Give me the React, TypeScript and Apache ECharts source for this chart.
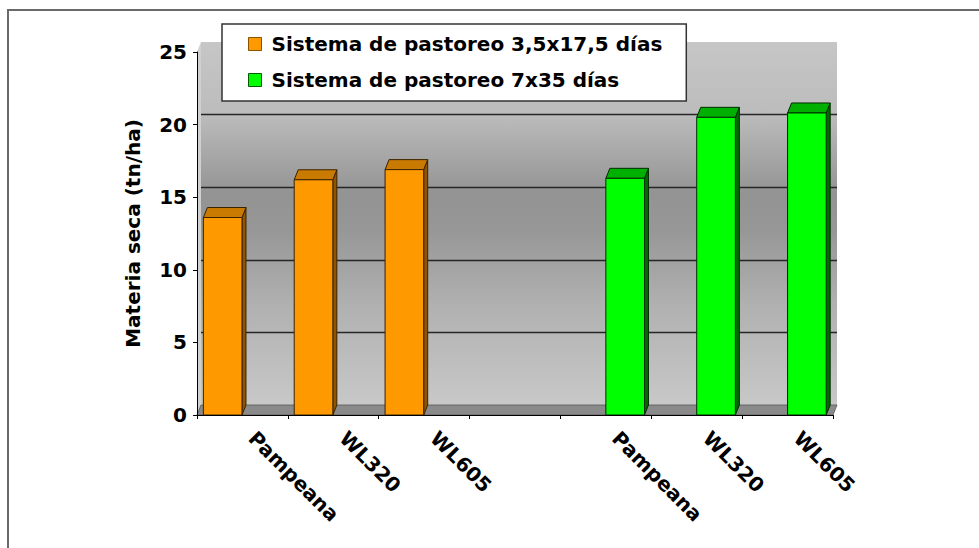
import React, { useEffect, useRef } from 'react';
import * as echarts from 'echarts';

const categories = ['Pampeana', 'WL320', 'WL605', '', 'Pampeana', 'WL320', 'WL605'];
const seriesNames = ['Sistema de pastoreo 3,5x17,5 días', 'Sistema de pastoreo 7x35 días'];
const valuesShort: (number | null)[] = [13.6, 16.2, 16.9, null, null, null, null];
const valuesLong: (number | null)[] = [null, null, null, null, 16.3, 20.5, 20.8];
const yMin = 0;
const yMax = 25;
const yInterval = 5;
const yAxisName = 'Materia seca (tn/ha)';

const FONT = '"DejaVu Sans", "Liberation Sans", sans-serif';
const DX = 4;
const DY = -10;
const GRID = { left: 197, top: 52, width: 636, height: 363 };

const toData = (vals: (number | null)[]) =>
  vals.map((v, i) => [i, v]).filter((d) => d[1] !== null);

const makeBar = (offset: number, front: string, topC: string, side: string, stroke: string) =>
  (params: any, api: any) => {
    const cat = api.value(0);
    const val = api.value(1);
    const p0 = api.coord([cat, 0]);
    const p1 = api.coord([cat, val]);
    const W = api.size([1, 0])[0];
    const x0 = p0[0] - W / 2 + W * offset;
    const w = W * 0.425;
    const yb = p0[1];
    const yt = p1[1];
    return {
      type: 'group',
      children: [
        {
          type: 'polygon',
          shape: { points: [[x0 + w, yt], [x0 + w + DX, yt + DY], [x0 + w + DX, yb + DY], [x0 + w, yb]] },
          style: { fill: side, stroke, lineWidth: 1 },
        },
        {
          type: 'polygon',
          shape: { points: [[x0, yt], [x0 + DX, yt + DY], [x0 + w + DX, yt + DY], [x0 + w, yt]] },
          style: { fill: topC, stroke, lineWidth: 1 },
        },
        {
          type: 'rect',
          shape: { x: x0, y: yt, width: w, height: yb - yt },
          style: { fill: front, stroke, lineWidth: 1 },
        },
      ],
    };
  };

export default function App() {
  const ref = useRef<HTMLDivElement>(null);
  useEffect(() => {
    if (!ref.current) return;
    const chart = echarts.init(ref.current, null, { renderer: 'svg' });
    const labelStyle = { fontFamily: FONT, fontWeight: 'bold' as const, fontSize: 20, color: '#000' };
    chart.setOption({
      animation: false,
      backgroundColor: '#ffffff',
      graphic: [
        {
          type: 'rect',
          silent: true,
          z: -10,
          shape: { x: 8, y: 10, width: 1000, height: 600 },
          style: { fill: 'none', stroke: '#6a6a6a', lineWidth: 2 },
        },
      ],
      legend: {
        show: true,
        orient: 'vertical',
        left: 222,
        top: 24,
        padding: [10, 24, 11, 26],
        itemGap: 16,
        itemWidth: 13,
        itemHeight: 13,
        backgroundColor: '#ffffff',
        borderColor: '#333333',
        borderWidth: 1.5,
        textStyle: { ...labelStyle, padding: [0, 0, 0, 5] },
        data: [
          { name: seriesNames[0], icon: 'rect', itemStyle: { color: '#FF9900', borderColor: '#8a5200', borderWidth: 1 } },
          { name: seriesNames[1], icon: 'rect', itemStyle: { color: '#00FF00', borderColor: '#005a00', borderWidth: 1 } },
        ],
        z: 20,
      },
      grid: [
        { ...GRID, outerBoundsMode: 'none', show: false },
        {
          left: GRID.left + DX,
          top: GRID.top + DY,
          width: GRID.width,
          height: GRID.height,
          outerBoundsMode: 'none',
          show: true,
          borderWidth: 0,
          backgroundColor: new echarts.graphic.LinearGradient(0, 0, 0, 1, [
            { offset: 0, color: '#c6c6c6' },
            { offset: 0.2, color: '#bcbcbc' },
            { offset: 0.42, color: '#939393' },
            { offset: 0.52, color: '#979797' },
            { offset: 0.72, color: '#b0b0b0' },
            { offset: 1, color: '#c8c8c8' },
          ]),
        },
      ],
      xAxis: [
        {
          type: 'category',
          gridIndex: 0,
          data: categories,
          boundaryGap: true,
          axisLine: { show: true, lineStyle: { color: '#000', width: 1 } },
          axisTick: { show: true, interval: 0, length: 4, lineStyle: { color: '#000' } },
          axisLabel: {
            ...labelStyle,
            interval: 0,
            rotate: -45,
            margin: 10,
            padding: [0, 0, 0, 14],
          },
          splitLine: { show: false },
          z: 5,
        },
        {
          type: 'category',
          gridIndex: 1,
          data: categories,
          axisLine: { show: false },
          axisTick: { show: false },
          axisLabel: { show: false },
          splitLine: { show: false },
        },
      ],
      yAxis: [
        {
          type: 'value',
          gridIndex: 0,
          min: yMin,
          max: yMax,
          interval: yInterval,
          name: yAxisName,
          nameLocation: 'middle',
          nameGap: 54,
          nameRotate: 90,
          nameTextStyle: labelStyle,
          axisLine: { show: true, lineStyle: { color: '#000', width: 1 } },
          axisTick: { show: true, length: 4, lineStyle: { color: '#000' } },
          axisLabel: { ...labelStyle, margin: 10 },
          splitLine: { show: false },
          z: 5,
        },
        {
          type: 'value',
          gridIndex: 1,
          min: yMin,
          max: yMax,
          interval: yInterval,
          axisLine: { show: false },
          axisTick: { show: false },
          axisLabel: { show: false },
          splitLine: {
            show: true,
            showMinLine: false,
            showMaxLine: false,
            lineStyle: { color: '#262626', width: 1.3 },
          },
        },
      ],
      series: [
        {
          type: 'custom',
          name: 'floor',
          xAxisIndex: 0,
          yAxisIndex: 0,
          silent: true,
          z: 1,
          data: [[0, 0]],
          renderItem: (params: any) => {
            const cs = params.coordSys;
            const by = cs.y + cs.height;
            return {
              type: 'group',
              children: [
                {
                  type: 'polygon',
                  shape: { points: [[cs.x, cs.y], [cs.x + DX, cs.y + DY], [cs.x + DX, by + DY], [cs.x, by]] },
                  style: { fill: '#d0d0d0' },
                },
                {
                  type: 'polygon',
                  shape: {
                    points: [[cs.x, by], [cs.x + DX, by + DY], [cs.x + cs.width + DX, by + DY], [cs.x + cs.width, by]],
                  },
                  style: { fill: '#8a8a8a', stroke: '#555555', lineWidth: 0.8 },
                },
              ],
            };
          },
        },
        {
          type: 'custom',
          name: seriesNames[0],
          xAxisIndex: 0,
          yAxisIndex: 0,
          z: 3,
          itemStyle: { color: '#FF9900' },
          data: toData(valuesShort),
          renderItem: makeBar(0.07, '#FF9900', '#C97A00', '#8f5500', '#3a2200'),
        },
        {
          type: 'custom',
          name: seriesNames[1],
          xAxisIndex: 0,
          yAxisIndex: 0,
          z: 3,
          itemStyle: { color: '#00FF00' },
          data: toData(valuesLong),
          renderItem: makeBar(0.5, '#00FF00', '#00B000', '#006a00', '#002a00'),
        },
      ],
    });
    return () => chart.dispose();
  }, []);
  return (
    <div
      ref={ref}
      style={{ position: 'absolute', left: 0, top: 0, width: 979, height: 548, background: '#fff' }}
    />
  );
}
